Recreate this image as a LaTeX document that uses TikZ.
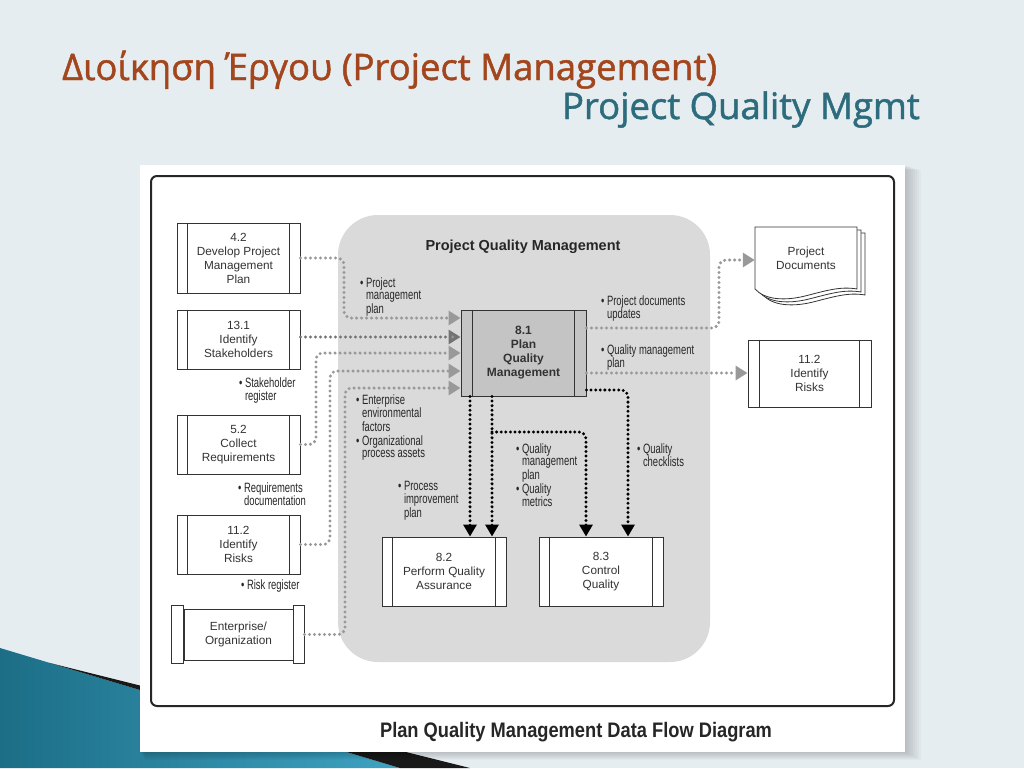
\documentclass[tikz,border=0pt]{standalone}
\usepackage{fontspec}
\setmainfont{Liberation Sans}
\newfontfamily\titlefont[FakeBold=1.3]{Open Sans}
\newfontfamily\condfont[FakeStretch=0.7]{Liberation Sans}
\newfontfamily\capfamily[FakeStretch=0.87]{Liberation Sans}
\usetikzlibrary{arrows.meta}
\definecolor{bgc}{HTML}{E6EDF1}
\definecolor{titlec}{HTML}{A4461D}
\definecolor{subc}{HTML}{2D6C7C}
\definecolor{panelc}{HTML}{DADADA}
\definecolor{procc}{HTML}{C4C4C4}
\definecolor{dotc}{HTML}{999999}
\definecolor{tealA}{HTML}{1C6E86}
\definecolor{tealB}{HTML}{3FA3C2}
\definecolor{txtc}{HTML}{333333}
\newcommand\boxf{\fontsize{11.8}{14}\selectfont}
\newcommand\lblf{\condfont\fontsize{13.5}{12.6}\selectfont}
\newcommand\bl[1]{\begin{tabular}[t]{@{}l@{\hspace{2.5pt}}l@{}}\textbullet & #1\end{tabular}}
\newcommand\barsin[2]{\draw[line width=0.9pt, draw=black!80] ([xshift=#2]#1.north west) -- ([xshift=#2]#1.south west) ([xshift=-#2]#1.north east) -- ([xshift=-#2]#1.south east);}
\tikzset{
  proc/.style={draw=black!80, line width=0.9pt, fill=white, inner sep=0pt, align=center, font=\boxf, text=txtc},
  gdot/.style={draw=dotc, line width=3.3pt, line cap=round, dash pattern=on 0pt off 5pt, rounded corners=7pt, -{Triangle[length=12pt,width=14pt,fill=dotc]}},
  bdot/.style={draw=black, line width=3.3pt, line cap=round, dash pattern=on 0pt off 4.6pt, rounded corners=7pt, -{Triangle[length=12pt,width=13pt]}},
  lbl/.style={anchor=base west, inner sep=0pt, font=\lblf, text=black!85},
  docpage/.style={draw=black!80, line width=0.8pt, fill=white}
}
\begin{document}
\begin{tikzpicture}[x=1pt,y=-1pt]
\useasboundingbox (0,0) rectangle (1024,768);
\fill[bgc] (0,0) rectangle (1024,768);
% bottom-left decoration
\shade[left color=tealA, right color=tealB] (0,648) -- (400,768) -- (0,768) -- cycle;
\fill[black!90] (50,663) -- (470,768) -- (400,768) -- cycle;
% card shadow and card
\foreach \d in {2,4,...,16} \fill[black,opacity=0.025] (140+\d*0.3,165+\d*0.3) rectangle (905+\d,752+\d*0.5);
\fill[white] (140,165) rectangle (905,752);
\draw[line width=2pt, rounded corners=6pt, black!85] (151,176) rectangle (894,706);
\fill[panelc, rounded corners=40pt] (338,215) rectangle (710,662);
% titles
\node[anchor=base west, inner sep=0pt, font=\titlefont\fontsize{36.5}{40}\selectfont, text=titlec] (t1) at (62,80) {Διοίκηση Έργου (Project Management)};
\node[anchor=base east, inner sep=0pt, font=\titlefont\fontsize{36.5}{40}\selectfont, text=subc] (t2) at (920,119) {Project Quality Mgmt};
\node[font=\bfseries\fontsize{14.5}{16}\selectfont, text=black!85] (pqm) at (523,247) {Project Quality Management};
\node[font=\capfamily\bfseries\fontsize{21}{24}\selectfont, text=black!85] (cap) at (576,732) {Plan Quality Management Data Flow Diagram};
% left process boxes
\node[proc, minimum width=123pt, minimum height=70pt] (b42) at (238.5,258) {4.2\\Develop Project\\Management\\Plan};
\barsin{b42}{11pt}
\node[proc, minimum width=123pt, minimum height=59pt] (b131) at (238.5,339.5) {13.1\\Identify\\Stakeholders};
\barsin{b131}{11pt}
\node[proc, minimum width=123pt, minimum height=59pt] (b52) at (238.5,444.5) {5.2\\Collect\\Requirements};
\barsin{b52}{11pt}
\node[proc, minimum width=123pt, minimum height=59pt] (b112L) at (238.5,544.5) {11.2\\Identify\\Risks};
\barsin{b112L}{11pt}
\node[proc, minimum width=109pt, minimum height=51pt] (ent) at (238.5,634.5) {Enterprise/\\Organization};
\draw[docpage, line width=0.9pt] ([xshift=-12pt,yshift=3pt]ent.north west) rectangle ([yshift=-3pt]ent.south west);
\draw[docpage, line width=0.9pt] ([yshift=3pt]ent.north east) rectangle ([xshift=11pt,yshift=-3pt]ent.south east);
% central process
\node[proc, fill=procc, font=\bfseries\fontsize{12}{14}\selectfont, minimum width=125pt, minimum height=86pt] (p81) at (523.5,353) {8.1\\Plan\\Quality\\Management};
\barsin{p81}{12pt}
% lower processes
\node[proc, minimum width=124pt, minimum height=69pt] (b82) at (444,571.5) {8.2\\Perform Quality\\Assurance};
\barsin{b82}{11pt}
\node[proc, minimum width=124pt, minimum height=69pt] (b83) at (601,571.5) {8.3\\Control\\Quality};
\barsin{b83}{11pt}
% right side
\node[proc, minimum width=123pt, minimum height=67pt] (b112R) at (809.5,373.5) {11.2\\Identify\\Risks};
\barsin{b112R}{12pt}
\foreach \dx/\dy in {8/6,4/3,0/0}
  \draw[docpage] (755+\dx,227+\dy) -- (857+\dx,227+\dy) -- (857+\dx,289+\dy)
    .. controls (840+\dx,286+\dy) and (825+\dx,291+\dy) .. (805+\dx,296+\dy)
    .. controls (785+\dx,301+\dy) and (765+\dx,300+\dy) .. (755+\dx,289+\dy) -- cycle;
\node[align=center, font=\boxf, text=txtc, minimum width=102pt, minimum height=62pt, inner sep=0pt] (docs) at (806,258) {Project\\Documents};
% labels
\node[lbl] (l1) at (360,287) {\bl{Project\\ & management\\ & plan}};
\node[lbl] (l2) at (239,387) {\bl{Stakeholder\\ & register}};
\node[lbl] (l3) at (238,492) {\bl{Requirements\\ & documentation}};
\node[lbl] (l4) at (241,589) {\bl{Risk register}};
\node[lbl] (l5) at (356,404) {\bl{Enterprise\\ & environmental\\ & factors}};
\node[lbl] (l6) at (356,445) {\bl{Organizational\\ & process assets}};
\node[lbl] (l7) at (398,490) {\bl{Process\\ & improvement\\ & plan}};
\node[lbl] (l8) at (601,305) {\bl{Project documents\\ & updates}};
\node[lbl] (l9) at (601,354) {\bl{Quality management\\ & plan}};
\node[lbl] (l10) at (516,453) {\bl{Quality\\ & management\\ & plan}};
\node[lbl] (l11) at (516,493) {\bl{Quality\\ & metrics}};
\node[lbl] (l12) at (637,453) {\bl{Quality\\ & checklists}};
% input connectors
\draw[gdot] (b42.east) -- (344,258) -- (344,318) -- (p81.west |- 0,318);
\draw[gdot, draw=black!55] (b131.east |- 0,337) -- (p81.west |- 0,337);
\draw[gdot] (b52.east) -- (316,444.5) -- (316,353) -- (p81.west |- 0,353);
\draw[gdot] (b112L.east) -- (330,544.5) -- (330,371) -- (p81.west |- 0,371);
\draw[gdot] ([xshift=11pt]ent.east) -- (345,634.5) -- (345,388) -- (p81.west |- 0,388);
% output connectors
\draw[gdot] (p81.east |- 0,328) -- (719,328) -- (719,260) -- (docs.west |- 0,260);
\draw[gdot] (p81.east |- 0,373) -- (b112R.west |- 0,373);
\coordinate (br) at (492,432);
\draw[bdot] (p81.south -| 470,0) -- (b82.north -| 470,0);
\draw[bdot] (p81.south -| 492,0) -- (b82.north -| 492,0);
\draw[bdot] (br) -- (586,432) -- (b83.north -| 586,0);
\draw[bdot] (p81.east |- 0,390) -- (628,390) -- (b83.north -| 628,0);
\end{tikzpicture}
\end{document}
